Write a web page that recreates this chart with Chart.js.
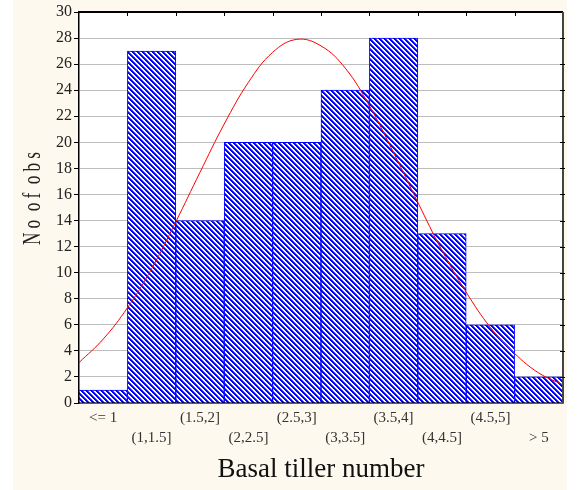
<!DOCTYPE html>
<html>
<head>
<meta charset="utf-8">
<script src="https://cdn.jsdelivr.net/npm/chart.js@4"></script>
<style>
  html, body { margin: 0; padding: 0; background: #fff; }
  #wrap { width: 578px; height: 490px; }
</style>
</head>
<body>
<div id="wrap"><canvas id="c" width="578" height="490"></canvas></div>
<script>
// bins and counts
const binLabels = ["<= 1", "(1,1.5]", "(1.5,2]", "(2,2.5]", "(2.5,3]", "(3,3.5]", "(3.5,4]", "(4,4.5]", "(4.5,5]", "> 5"];
const counts = [1, 27, 14, 20, 20, 24, 28, 13, 6, 2];

// fitted normal curve (x in bin index units)
const curveX = [-0.5, 0, 0.5, 1, 1.5, 2, 2.5, 3, 3.5, 4, 4.5, 5, 5.5, 6, 6.5, 7, 7.5, 8, 8.5, 9, 9.5];
const curveY = [3.1, 4.9, 7.3, 10.3, 13.9, 17.7, 21.4, 24.6, 26.9, 27.9, 27.4, 25.7, 22.8, 19.2, 15.4, 11.7, 8.5, 5.8, 3.8, 2.3, 1.4];

const yTicks = { min: 0, max: 30, step: 2 };
const yTitle = "N o  o f  o b s";

// staggered labels: even bins on first row, odd on second
const tickLabels = binLabels.map((l, i) => (i % 2 === 0 ? [l, ""] : ["", l]));

// hatch pattern for the bars (diagonal \ stripes)
function makeHatch() {
  const n = 5;
  const t = document.createElement("canvas");
  t.width = n; t.height = n;
  const g = t.getContext("2d");
  const cols = ["#0000ff", "#0000ff", "#4a4aff", "#ffffff", "#ffffff"];
  for (let y = 0; y < n; y++) {
    for (let x = 0; x < n; x++) {
      g.fillStyle = cols[((x - y) % n + n) % n];
      g.fillRect(x, y, 1, 1);
    }
  }
  return g.createPattern(t, "repeat");
}

const serif = "'Liberation Serif', 'Times New Roman', serif";

const frame = {
  id: "frame",
  beforeDraw(chart) {
    const { ctx, chartArea: a } = chart;
    ctx.save();
    ctx.fillStyle = "#ffffff";
    ctx.fillRect(0, 0, chart.width, chart.height);
    ctx.fillStyle = "#fdf9ee";
    ctx.fillRect(13, 0, 554, chart.height);
    ctx.fillStyle = "#ffffff";
    ctx.fillRect(a.left, a.top, a.right - a.left, a.bottom - a.top);
    ctx.restore();
  },
  afterDraw(chart) {
    const { ctx, chartArea: a } = chart;
    const xs = chart.scales.x, ys = chart.scales.y;
    ctx.save();
    ctx.strokeStyle = "#000";
    ctx.lineWidth = 2;
    ctx.beginPath();
    ctx.moveTo(a.left, a.top); ctx.lineTo(a.right, a.top);
    ctx.stroke();
    ctx.strokeStyle = "#444";
    ctx.beginPath();
    ctx.moveTo(a.right, a.top); ctx.lineTo(a.right, a.bottom);
    ctx.stroke();
    // inward ticks on top and right
    ctx.lineWidth = 1;
    ctx.strokeStyle = "#000";
    ctx.beginPath();
    for (let i = 1; i < binLabels.length; i++) {
      const px = Math.round(xs.getPixelForValue(i - 0.5)) + 0.5;
      ctx.moveTo(px, a.top); ctx.lineTo(px, a.top + 4);
    }
    for (let v = yTicks.min + yTicks.step; v < yTicks.max; v += yTicks.step) {
      const py = Math.round(ys.getPixelForValue(v)) + 0.5;
      ctx.moveTo(a.right - 3, py); ctx.lineTo(a.right + 2, py);
    }
    ctx.stroke();

    // y title, tall narrow lettering
    ctx.translate(33, 198.5);
    ctx.rotate(-Math.PI / 2);
    ctx.font = "25px " + serif;
    const w = ctx.measureText(yTitle).width;
    ctx.scale(93 / w, 1);
    ctx.fillStyle = "#222";
    ctx.textAlign = "center";
    ctx.textBaseline = "middle";
    ctx.fillText(yTitle, 0, 0);
    ctx.restore();
  }
};

new Chart(document.getElementById("c"), {
  data: {
    labels: tickLabels,
    datasets: [
      {
        type: "bar",
        data: counts,
        xAxisID: "x",
        grouped: false,
        backgroundColor: makeHatch(),
        borderColor: "#0000ff",
        borderWidth: 1,
        categoryPercentage: 1,
        barPercentage: 1,
        order: 1
      },
      {
        type: "line",
        data: curveX.map((x, i) => ({ x: x, y: curveY[i] })),
        xAxisID: "xc",
        borderColor: "#ff0000",
        borderWidth: 1,
        pointRadius: 0,
        tension: 0.4,
        fill: false,
        order: 0
      }
    ]
  },
  options: {
    responsive: false,
    animation: false,
    events: [],
    layout: { padding: { top: 12, right: 15, left: 0, bottom: 0 } },
    plugins: { legend: { display: false }, tooltip: { enabled: false } },
    scales: {
      x: {
        type: "category",
        position: "bottom",
        grid: { display: false, drawTicks: false },
        border: { color: "#000", width: 1.5 },
        ticks: {
          autoSkip: false,
          maxRotation: 0,
          padding: 6,
          color: "#333",
          font: { family: serif, size: 15, lineHeight: 1.27 }
        },
        title: {
          display: true,
          text: "Basal tiller number",
          color: "#111",
          font: { family: serif, size: 27 },
          padding: { top: 0, bottom: 4 }
        },
        afterFit(s) { s.height = 87; }
      },
      xc: {
        type: "linear",
        display: false,
        min: -0.5,
        max: 9.5
      },
      y: {
        min: yTicks.min,
        max: yTicks.max,
        ticks: {
          stepSize: yTicks.step,
          padding: 2,
          color: "#222",
          font: { family: serif, size: 16 }
        },
        grid: {
          color: "#bdbdbd",
          borderDash: [1, 2],
          lineWidth: 1,
          tickLength: 5,
          tickColor: "#000",
          tickBorderDash: []
        },
        border: { color: "#000", width: 1.5 },
        afterFit(s) { s.width = 79; }
      }
    }
  },
  plugins: [frame]
});
</script>
</body>
</html>
